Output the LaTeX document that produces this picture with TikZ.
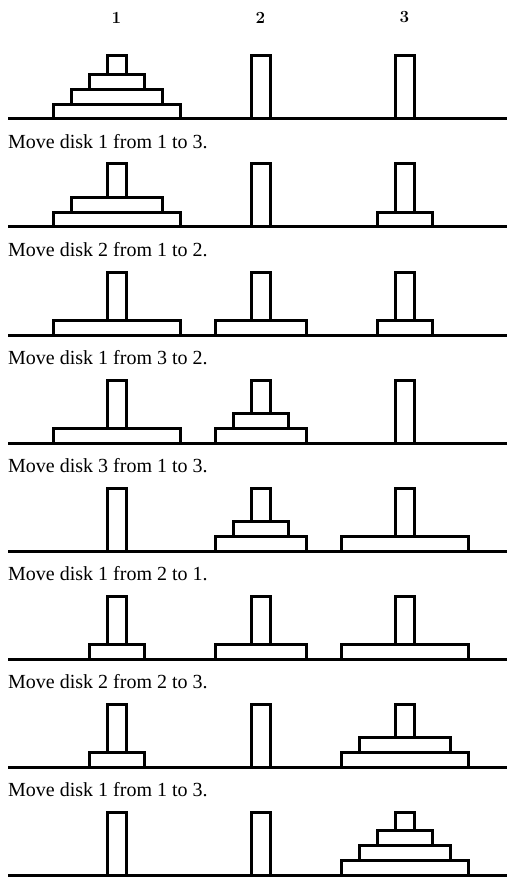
\documentclass[tikz,border=0pt]{standalone}
\usepackage{fontspec}
\newfontfamily\movefont{Liberation Serif}
% pixel-like units, y grows downward
\newcommand\hbase[1]{119+108*(#1-1)}
% one disk: row, peg, level (0 = bottom), size (1..3)
\newcommand\hdisk[4]{%
  \pgfmathsetmacro\hdy{\hbase{#1}-14.7*#3}%
  \pgfmathsetmacro\hdx{116.5+144*(#2-1)}%
  \pgfmathsetmacro\hdw{9.5+18*#4}%
  \draw[part] (\hdx-\hdw,\hdy) rectangle (\hdx+\hdw,\hdy-14.7);%
}
\begin{document}
\begin{tikzpicture}[x=1pt,y=-1pt,
  part/.style={draw=black,line width=3pt,fill=white},
  groundline/.style={draw=black,line width=3pt},
  movetext/.style={anchor=base west,inner sep=0pt,font=\movefont\fontsize{20}{22}\selectfont},
  colhead/.style={inner sep=0pt,font=\fontsize{17}{20}\selectfont\bfseries}]
\useasboundingbox (0,0) rectangle (507,877);

% peg numbers
\foreach \p/\cx in {1/116.5,2/260.5,3/404.5}
  \node[colhead] (head\p) at (\cx,17.5) {\p};

% pegs of every row
\foreach \r in {1,...,8}{
  \pgfmathsetmacro\gy{\hbase{\r}}
  \foreach \cx in {116.5,260.5,404.5}
    \draw[part] (\cx-9.5,\gy-63) rectangle (\cx+9.5,\gy);
}

% disks: row, peg, level, size
\hdisk{1}{1}{0}{3}\hdisk{1}{1}{1}{2}\hdisk{1}{1}{2}{1}
\hdisk{2}{1}{0}{3}\hdisk{2}{1}{1}{2}\hdisk{2}{3}{0}{1}
\hdisk{3}{1}{0}{3}\hdisk{3}{2}{0}{2}\hdisk{3}{3}{0}{1}
\hdisk{4}{1}{0}{3}\hdisk{4}{2}{0}{2}\hdisk{4}{2}{1}{1}
\hdisk{5}{2}{0}{2}\hdisk{5}{2}{1}{1}\hdisk{5}{3}{0}{3}
\hdisk{6}{1}{0}{1}\hdisk{6}{2}{0}{2}\hdisk{6}{3}{0}{3}
\hdisk{7}{1}{0}{1}\hdisk{7}{3}{0}{3}\hdisk{7}{3}{1}{2}
\hdisk{8}{3}{0}{3}\hdisk{8}{3}{1}{2}\hdisk{8}{3}{2}{1}

% base line of every row
\foreach \r in {1,...,8}{
  \pgfmathsetmacro\gy{\hbase{\r}}
  \draw[groundline] (8,\gy) -- (507,\gy);
}

% move captions
\foreach \r/\txt in {2/{Move disk 1 from 1 to 3.},3/{Move disk 2 from 1 to 2.},
    4/{Move disk 1 from 3 to 2.},5/{Move disk 3 from 1 to 3.},
    6/{Move disk 1 from 2 to 1.},7/{Move disk 2 from 2 to 3.},
    8/{Move disk 1 from 1 to 3.}}{
  \pgfmathsetmacro\ty{\hbase{\r}-78.7}
  \node[movetext] (move\r) at (8,\ty) {\txt};
}
\end{tikzpicture}
\end{document}
